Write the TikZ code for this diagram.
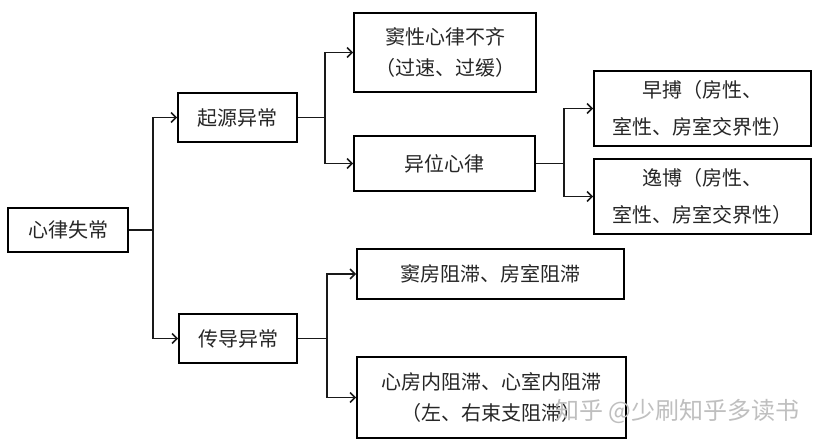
\documentclass[tikz,border=0pt]{standalone}
\usepackage{fontspec}
\setmainfont{Noto Sans CJK SC}
\usetikzlibrary{arrows.meta}
\begin{document}
\begin{tikzpicture}[x=1pt,y=-1pt,
  box/.style={draw=black,line width=1.6pt,rectangle,inner sep=0pt,align=center,
    font=\fontsize{20}{31}\selectfont,text=black!85},
  conn/.style={line width=1.8pt,draw=black!90},
  arr/.style={conn,-{Straight Barb[length=5pt,width=10pt,line width=1.6pt]}},
  wm/.style={font=\fontsize{24}{26}\selectfont,text=gray!50,inner sep=0pt}]
\fill[white] (0,0) rectangle (824,447);
\useasboundingbox (0,0) rectangle (824,447);
\node[box,minimum width=120pt,minimum height=44pt] (A) at (68,230) {心律失常};
\node[box,minimum width=119pt,minimum height=49pt] (B) at (237.5,117.5) {起源异常};
\node[box,minimum width=118pt,minimum height=49pt] (C) at (238,338.5) {传导异常};
\node[box,minimum width=182pt,minimum height=79pt] (D) at (445,52.5) {窦性心律不齐\\（过速、过缓）};
\node[box,minimum width=181pt,minimum height=55pt] (E) at (444.5,163.5) {异位心律};
\node[box,minimum width=217pt,minimum height=75pt] (F) at (702.5,108.5) {早搏（房性、\\[6pt]室性、房室交界性）};
\node[box,minimum width=217pt,minimum height=75pt] (G) at (702.5,196.5) {逸博（房性、\\[6pt]室性、房室交界性）};
\node[box,minimum width=267pt,minimum height=50pt] (H) at (490.5,274) {窦房阻滞、房室阻滞};
\node[box,minimum width=269pt,minimum height=81pt] (I) at (491.5,397.5) {心房内阻滞、心室内阻滞\\（左、右束支阻滞）};
\draw[arr] (A.east) -- ++(24,0) |- (B.west);
\draw[arr] (A.east) -- ++(24,0) |- (C.west);
\draw[arr] (B.east) -- ++(27,0) |- (D.west);
\draw[arr] (B.east) -- ++(27,0) |- (E.west);
\draw[arr] (E.east) -- ++(28,0) |- (F.west);
\draw[arr] (E.east) -- ++(28,0) |- (G.west);
\draw[arr] (C.east) -- ++(29,0) |- (H.west);
\draw[arr] (C.east) -- ++(29,0) |- (I.west);
\node[wm,anchor=west] (W) at (555,411) {知乎 @少刷知乎多读书};
\end{tikzpicture}
\end{document}
